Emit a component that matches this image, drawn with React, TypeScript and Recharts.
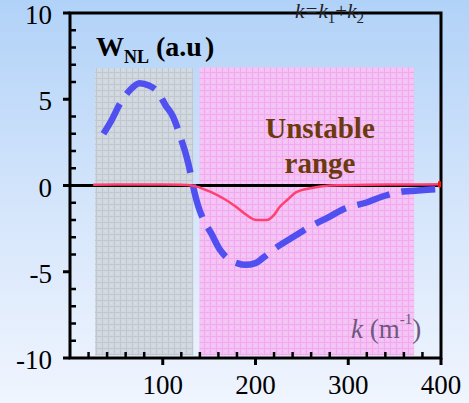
import React from 'react';
import { LineChart, Line, XAxis, YAxis, ReferenceArea, ReferenceLine } from 'recharts';

// blue dashed curve (W_NL)
const blueK = [36, 45, 54, 65, 75, 85, 95, 103, 111, 120, 125, 130, 134, 138, 144, 152, 162, 172, 180, 189, 200, 208, 221, 244, 255, 280, 293, 322, 336, 359, 372, 398];
const blueW = [3.0, 3.8, 4.75, 5.55, 5.93, 5.8, 5.4, 4.65, 4.0, 2.65, 1.8, 0.7, -0.35, -1.15, -2.0, -2.75, -3.75, -4.3, -4.5, -4.6, -4.5, -4.2, -3.65, -2.87, -2.5, -1.8, -1.42, -0.94, -0.65, -0.35, -0.3, -0.2];

// thin red curve
const redK = [25, 50, 75, 100, 120, 130, 140, 151, 165, 179, 190, 201, 212, 220, 226, 235, 244, 262, 280, 320, 360, 400];
const redW = [0.05, 0.06, 0.06, 0.06, 0.05, 0.02, -0.12, -0.36, -0.74, -1.23, -1.7, -2.0, -2.0, -1.7, -1.25, -0.8, -0.38, -0.13, 0.0, 0.05, 0.06, 0.07];

const xTicks = [0, 20, 40, 60, 80, 100, 120, 140, 160, 180, 200, 220, 240, 260, 280, 300, 320, 340, 360, 380, 400];
const yTicks = [-10, -9, -8, -7, -6, -5, -4, -3, -2, -1, 0, 1, 2, 3, 4, 5, 6, 7, 8, 9, 10];

// shaded bands [k1, k2, wBottom, wTop]
const grayBand = [27, 133, -9.85, 6.8];
const pinkBand = [139.5, 371, -9.85, 6.85];

const blueData = blueK.map((k, i) => ({ k, w: blueW[i] }));
const redData = redK.map((k, i) => ({ k, w: redW[i] }));

const serif = '"Liberation Serif", "DejaVu Serif", serif';

const YTick = (props: any) => {
  const { x, y, payload } = props;
  const v = payload.value;
  if (v % 5 === 0) {
    return (
      <g>
        <line x1={x - 7} x2={x} y1={y} y2={y} stroke="#000" strokeWidth={3} />
        <text x={x - 18} y={y + 2} textAnchor="end" dominantBaseline="central"
          fontFamily={serif} fontSize={27} fill="#000">{v}</text>
      </g>
    );
  }
  return <line x1={x} x2={x + 6} y1={y} y2={y} stroke="#000" strokeWidth={2.5} />;
};

const XTick = (props: any) => {
  const { x, y, payload } = props;
  const v = payload.value;
  if (v === 0) return <g />;
  if (v % 100 === 0) {
    return (
      <g>
        <line x1={x} x2={x} y1={y} y2={y + 7} stroke="#000" strokeWidth={3} />
        <text x={x} y={y + 27} textAnchor="middle" dominantBaseline="central"
          fontFamily={serif} fontSize={27} fill="#000">{v}</text>
      </g>
    );
  }
  return <line x1={x} x2={x} y1={y} y2={y - 6} stroke="#000" strokeWidth={2.5} />;
};

const RedEnd = (props: any) => {
  const { cx, cy, index } = props;
  if (index !== redData.length - 1) return <g key={index} />;
  return <rect key={index} x={cx - 3} y={cy - 3} width={6} height={6} fill="#ff1010" />;
};

export default function App() {
  return (
    <div style={{
      position: 'absolute', left: 0, top: 0, width: 469, height: 403,
      background: 'linear-gradient(to bottom, #b1d2f8 0%, #d4e5fb 50%, #f0f5fe 100%)',
      overflow: 'hidden',
    }}>
      <svg width={0} height={0} style={{ position: 'absolute' }}>
        <defs>
          <pattern id="grayPat" width={6} height={6} patternUnits="userSpaceOnUse">
            <rect width={6} height={6} fill="#d1d8e0" />
            <path d="M0 0.5H6M0.5 0V6" stroke="#c1c7cf" strokeWidth={1} />
            <rect x={3} y={3} width={1} height={1} fill="#dde3ea" />
          </pattern>
          <pattern id="pinkPat" width={6} height={6} patternUnits="userSpaceOnUse">
            <rect width={6} height={6} fill="#f3c3f4" />
            <path d="M0 0.5H6M0.5 0V6" stroke="#f4a8f1" strokeWidth={1} />
            <rect x={3} y={3} width={1} height={1} fill="#f7d3f7" />
          </pattern>
        </defs>
      </svg>
      <LineChart width={469} height={403} margin={{ top: 13, right: 28, bottom: 0, left: 0 }}>
        <XAxis dataKey="k" type="number" domain={[0, 400]} ticks={xTicks} interval={0}
          allowDataOverflow height={45} tickSize={0} tickMargin={0} tickLine={false}
          axisLine={false} tick={<XTick />} />
        <YAxis type="number" domain={[-10, 10]} ticks={yTicks} interval={0}
          allowDataOverflow width={70} tickSize={0} tickMargin={0} tickLine={false}
          axisLine={false} tick={<YTick />} />
        <ReferenceArea x1={grayBand[0]} x2={grayBand[1]} y1={grayBand[2]} y2={grayBand[3]}
          fill="url(#grayPat)" fillOpacity={1} stroke="none" />
        <ReferenceArea x1={pinkBand[0]} x2={pinkBand[1]} y1={pinkBand[2]} y2={pinkBand[3]}
          fill="url(#pinkPat)" fillOpacity={1} stroke="none" />
        <ReferenceLine y={0} stroke="#000" strokeWidth={3} />
        <Line data={blueData} dataKey="w" type="monotone" stroke="#5050f0" strokeWidth={6.5}
          strokeDasharray="34 12" dot={false} isAnimationActive={false} />
        <Line data={redData} dataKey="w" type="monotone" stroke="#ff4070" strokeWidth={2.5}
          dot={<RedEnd />} isAnimationActive={false} />
        <ReferenceArea x1={0} x2={400} y1={-10} y2={10} fill="none" stroke="#000"
          strokeWidth={3} ifOverflow="visible" />
      </LineChart>
      <svg width={469} height={403} style={{ position: 'absolute', left: 0, top: 0, pointerEvents: 'none' }}>
        <text x={96} y={56} fontFamily={serif} fontWeight="bold" fontSize={28} fill="#000">
          W<tspan fontSize={18} dy={7}>NL</tspan><tspan dy={-7}> (a.u</tspan><tspan dx={3}>)</tspan>
        </text>
        <text x={295} y={18} fontFamily={serif} fontStyle="italic" fontSize={21} fill="#222">
          k=k<tspan fontSize={15} dy={5} fontStyle="normal">1</tspan><tspan dy={-5} fontStyle="normal">+</tspan>k<tspan fontSize={15} dy={5} fontStyle="normal">2</tspan>
        </text>
        <text x={320} y={138} textAnchor="middle" fontFamily={serif} fontWeight="bold" fontSize={29} fill="#6b3a0e">Unstable</text>
        <text x={320} y={173} textAnchor="middle" fontFamily={serif} fontWeight="bold" fontSize={29} fill="#6b3a0e">range</text>
        <text x={351} y={338} fontFamily={serif} fontSize={27} fill="#6e5880">
          <tspan fontStyle="italic">k</tspan> (m<tspan fontSize={15} dy={-14}>-1</tspan><tspan dy={14}>)</tspan>
        </text>
      </svg>
    </div>
  );
}
